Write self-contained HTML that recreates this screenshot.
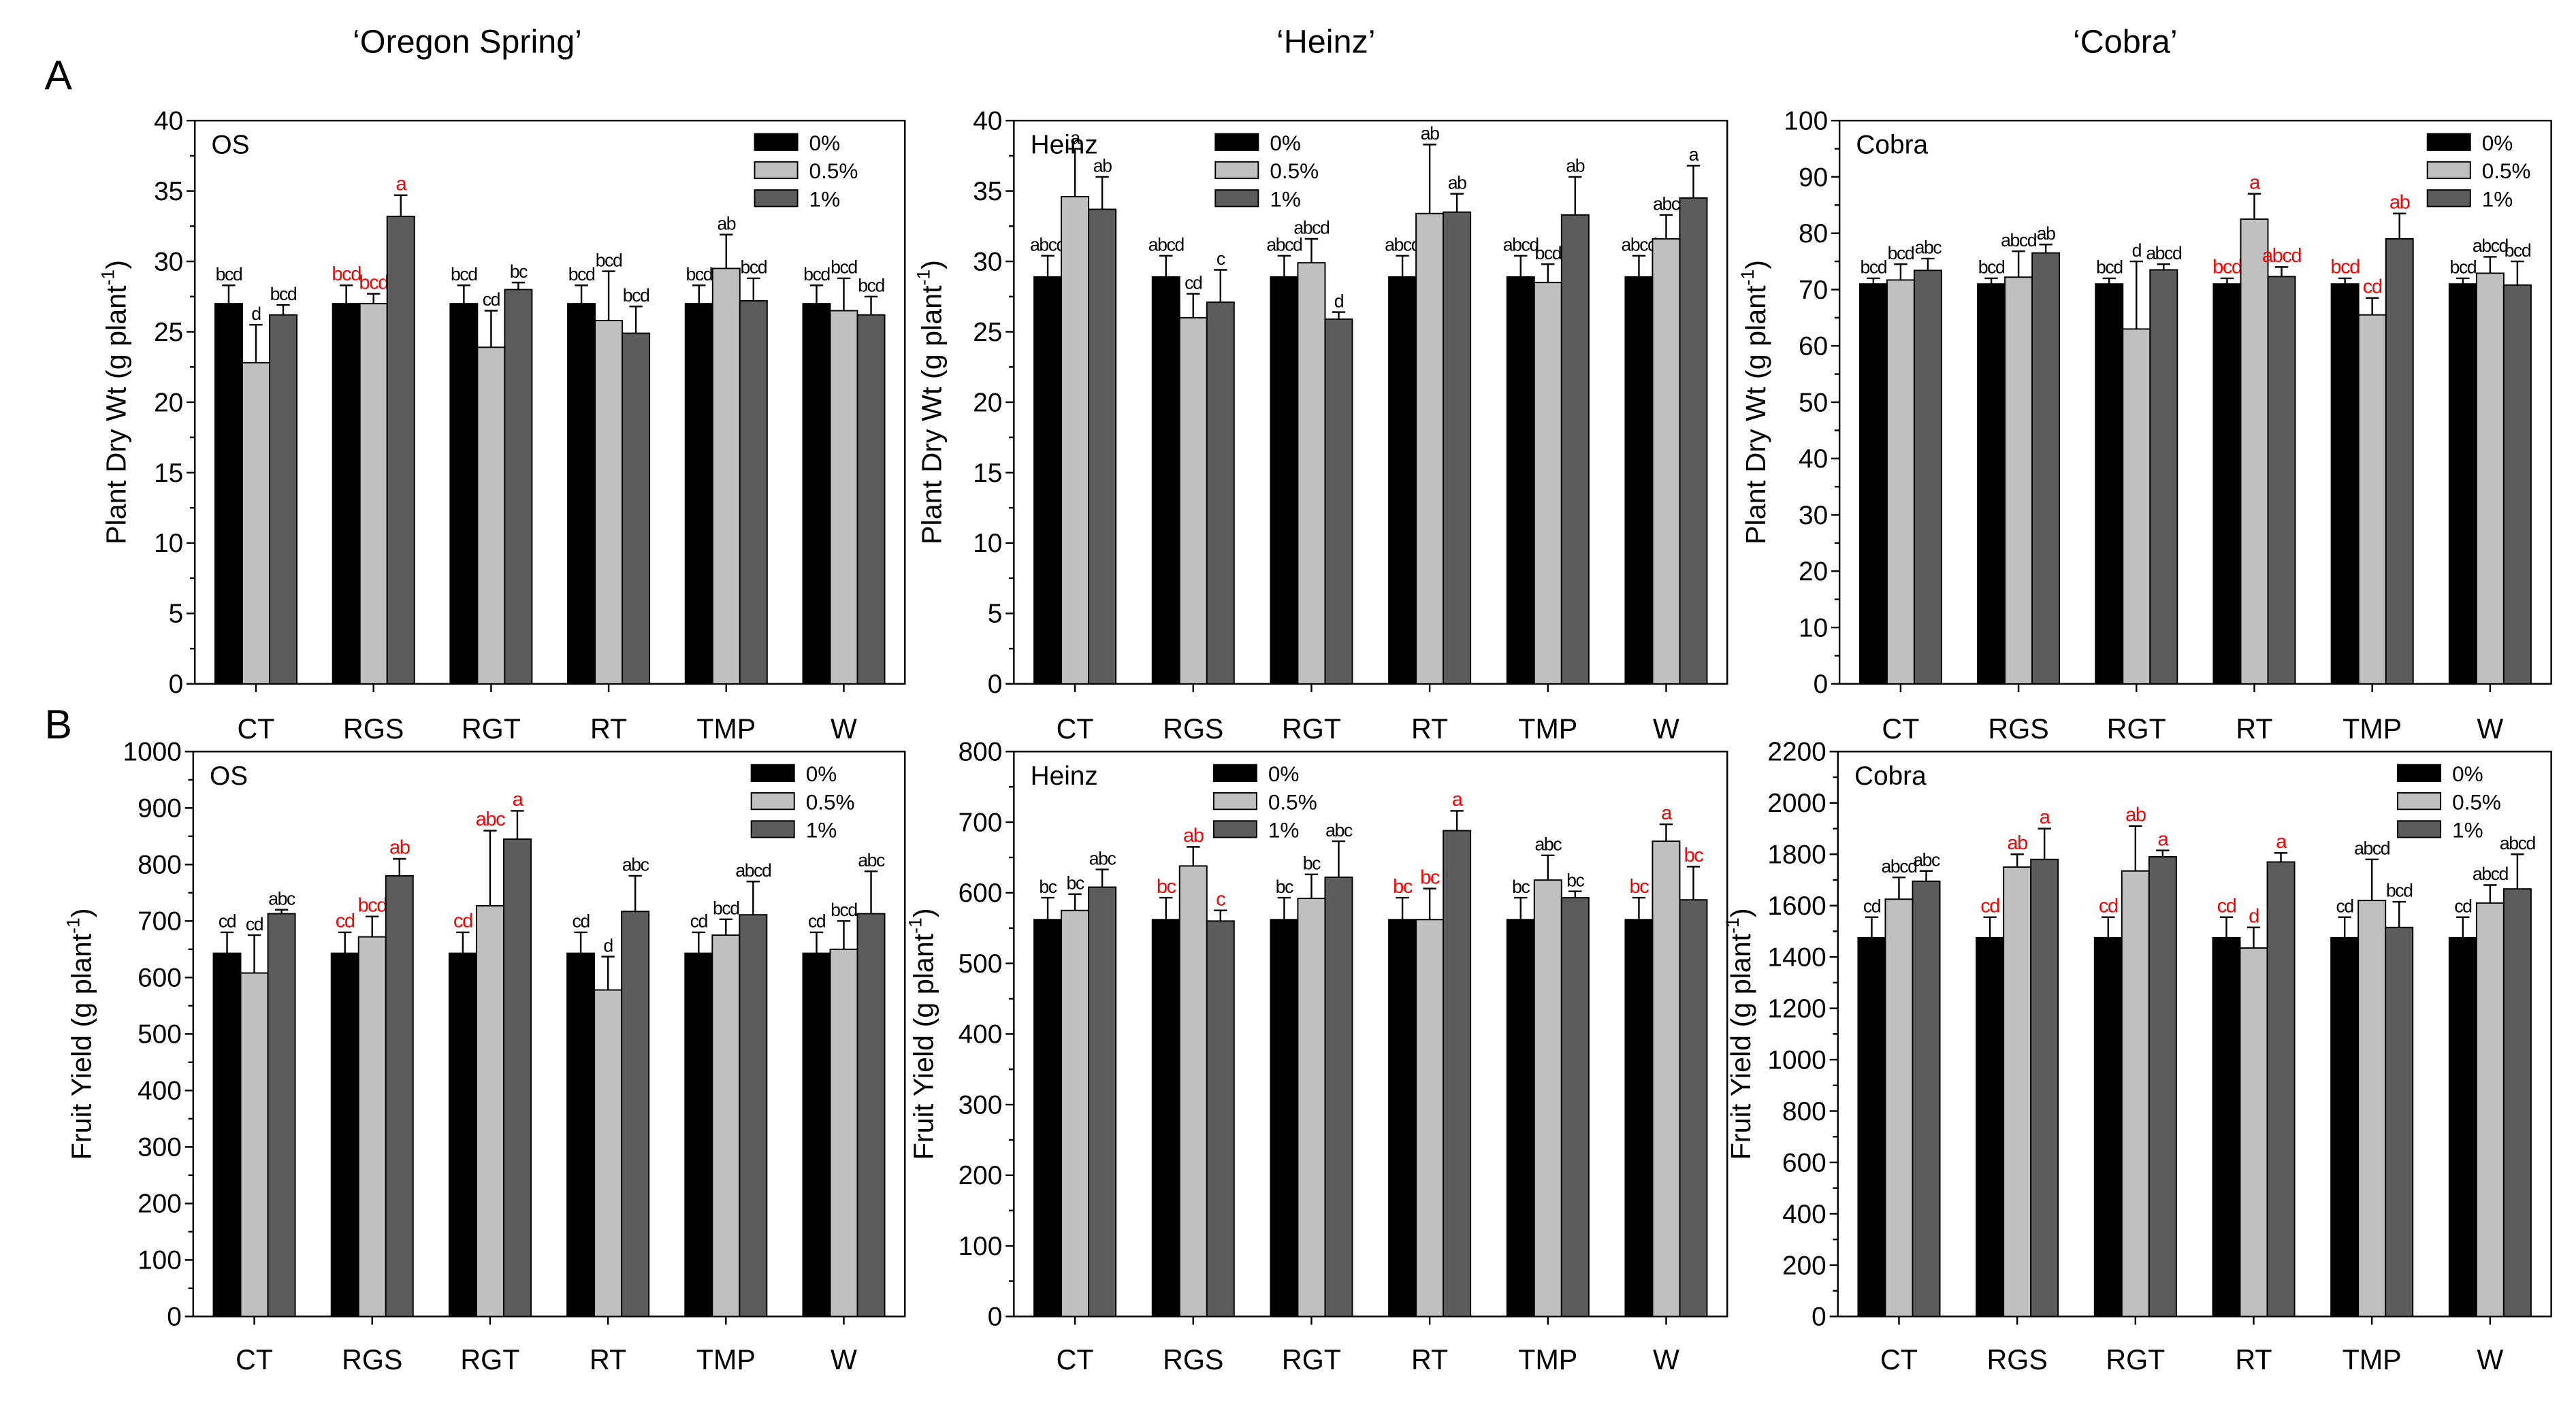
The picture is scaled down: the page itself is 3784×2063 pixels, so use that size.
<!DOCTYPE html>
<html><head><meta charset="utf-8"><style>
html,body{margin:0;padding:0;background:#fff;}
svg{display:block;font-family:"Liberation Sans",sans-serif;}
</style></head><body>
<svg id="fig" width="3784" height="2063" viewBox="0 0 1560 850" preserveAspectRatio="none" xmlns="http://www.w3.org/2000/svg">
<text x="283" y="32" font-size="20" text-anchor="middle">‘Oregon Spring’</text>
<text x="803" y="32" font-size="20" text-anchor="middle">‘Heinz’</text>
<text x="1287" y="32" font-size="20" text-anchor="middle">‘Cobra’</text>
<text x="27" y="54" font-size="25">A</text>
<text x="27" y="447" font-size="25">B</text>
</svg>
<script>
const categories = ["CT","RGS","RGT","RT","TMP","W"];
const seriesNames = ["0%","0.5%","1%"];

const osA_0 = [27,27,27,27,27,27];
const osA_05 = [22.8,27,23.9,25.8,29.5,26.5];
const osA_1 = [26.2,33.2,28,24.9,27.2,26.2];
const osA_e0 = [28.3,28.3,28.3,28.3,28.3,28.3];
const osA_e05 = [25.5,27.7,26.5,29.3,31.9,28.8];
const osA_e1 = [26.9,34.7,28.5,26.8,28.8,27.5];
const osA_lab = [["bcd","d","bcd"],["bcd","bcd","a"],["bcd","cd","bc"],["bcd","bcd","bcd"],["bcd","ab","bcd"],["bcd","bcd","bcd"]];
const osA_red = [[0,0,0],[1,1,1],[0,0,0],[0,0,0],[0,0,0],[0,0,0]];
const osA_ticks = [0,5,10,15,20,25,30,35,40];

const hzA_0 = [28.9,28.9,28.9,28.9,28.9,28.9];
const hzA_05 = [34.6,26,29.9,33.4,28.5,31.6];
const hzA_1 = [33.7,27.1,25.9,33.5,33.3,34.5];
const hzA_e0 = [30.4,30.4,30.4,30.4,30.4,30.4];
const hzA_e05 = [38,27.7,31.6,38.3,29.8,33.3];
const hzA_e1 = [36,29.4,26.4,34.8,36,36.8];
const hzA_lab = [["abcd","a","ab"],["abcd","cd","c"],["abcd","abcd","d"],["abcd","ab","ab"],["abcd","bcd","ab"],["abcd","abc","a"]];
const hzA_red = [[0,0,0],[0,0,0],[0,0,0],[0,0,0],[0,0,0],[0,0,0]];
const hzA_ticks = [0,5,10,15,20,25,30,35,40];

const cbA_0 = [71,71,71,71,71,71];
const cbA_05 = [71.7,72.2,63,82.5,65.5,72.9];
const cbA_1 = [73.4,76.5,73.5,72.3,79,70.8];
const cbA_e0 = [72,72,72,72,72,72];
const cbA_e05 = [74.5,76.8,75,87,68.5,75.8];
const cbA_e1 = [75.5,78,74.5,74,83.5,75];
const cbA_lab = [["bcd","bcd","abc"],["bcd","abcd","ab"],["bcd","d","abcd"],["bcd","a","abcd"],["bcd","cd","ab"],["bcd","abcd","bcd"]];
const cbA_red = [[0,0,0],[0,0,0],[0,0,0],[1,1,1],[1,1,1],[0,0,0]];
const cbA_ticks = [0,10,20,30,40,50,60,70,80,90,100];

const osB_0 = [643,643,643,643,643,643];
const osB_05 = [608,672,727,578,675,650];
const osB_1 = [713,780,845,717,711,713];
const osB_e0 = [680,680,680,680,680,680];
const osB_e05 = [675,708,860,637,703,700];
const osB_e1 = [720,810,895,780,770,788];
const osB_lab = [["cd","cd","abc"],["cd","bcd","ab"],["cd","abc","a"],["cd","d","abc"],["cd","bcd","abcd"],["cd","bcd","abc"]];
const osB_red = [[0,0,0],[1,1,1],[1,1,1],[0,0,0],[0,0,0],[0,0,0]];
const osB_ticks = [0,100,200,300,400,500,600,700,800,900,1000];

const hzB_0 = [562,562,562,562,562,562];
const hzB_05 = [575,638,592,562,618,673];
const hzB_1 = [608,560,622,688,593,590];
const hzB_e0 = [593,593,593,593,593,593];
const hzB_e05 = [598,665,626,606,653,697];
const hzB_e1 = [633,575,673,716,602,637];
const hzB_lab = [["bc","bc","abc"],["bc","ab","c"],["bc","bc","abc"],["bc","bc","a"],["bc","abc","bc"],["bc","a","bc"]];
const hzB_red = [[0,0,0],[1,1,1],[0,0,0],[1,1,1],[0,0,0],[1,1,1]];
const hzB_ticks = [0,100,200,300,400,500,600,700,800];

const cbB_0 = [1475,1475,1475,1475,1475,1475];
const cbB_05 = [1625,1750,1735,1435,1620,1610];
const cbB_1 = [1695,1780,1790,1770,1515,1665];
const cbB_e0 = [1555,1555,1555,1555,1555,1555];
const cbB_e05 = [1710,1800,1910,1515,1780,1680];
const cbB_e1 = [1735,1900,1815,1805,1615,1800];
const cbB_lab = [["cd","abcd","abc"],["cd","ab","a"],["cd","ab","a"],["cd","d","a"],["cd","abcd","bcd"],["cd","abcd","abcd"]];
const cbB_red = [[0,0,0],[1,1,1],[1,1,1],[1,1,1],[0,0,0],[0,0,0]];
const cbB_ticks = [0,200,400,600,800,1000,1200,1400,1600,1800,2000,2200];

const NS = "http://www.w3.org/2000/svg";
const svg = document.getElementById("fig");
function mk(tag, attrs, parent){
  const e = document.createElementNS(NS, tag);
  for (const k in attrs) e.setAttribute(k, attrs[k]);
  (parent||svg).appendChild(e);
  return e;
}
const fills = ["#000000","#c0c0c0","#5c5c5c"];

function drawPanel(p){
  const g = mk("g", {});
  
  
  const L=p.left, R=p.right, T=p.top, B=p.bottom;
  const ymax = p.ticks[p.ticks.length-1];
  const y = v => B - (v/ymax)*(B-T);
  const step = (R-L-74)/5;
  const xc = i => L + 37 + i*step;
  const bw = 16.5;
  // frame
  const fr = mk("rect", {x:L,y:T,width:R-L,height:B-T,fill:"none",stroke:"#000","stroke-width":1}, g);
  
  
  // y ticks
  for (let k=0;k<p.ticks.length;k++){
    const v = p.ticks[k];
    mk("line",{x1:L-5,x2:L,y1:y(v),y2:y(v),stroke:"#000","stroke-width":1},g);
    if (k<p.ticks.length-1){
      const vm=(p.ticks[k]+p.ticks[k+1])/2;
      mk("line",{x1:L-3,x2:L,y1:y(vm),y2:y(vm),stroke:"#000","stroke-width":1},g);
    }
    const t = mk("text",{x:L-7,y:y(v)+5.5,"font-size":16,"text-anchor":"end"},g);
    t.textContent = v;
    
    
  }
  // y title
  const yt = mk("text",{x:0,y:0,"font-size":17,"text-anchor":"middle",transform:`translate(${p.ytx},${(T+B)/2}) rotate(-90)`},g);
  yt.innerHTML = p.ytitle + ' (g plant<tspan dy="-7" font-size="11">-1</tspan><tspan dy="7">)</tspan>';
  
  
  // panel tag
  const tg = mk("text",{x:L+10,y:T+20,"font-size":16},g);
  tg.textContent = p.tag;
  
  
  // bars
  const vals=[p.v0,p.v05,p.v1], errs=[p.e0,p.e05,p.e1];
  for (let i=0;i<categories.length;i++){
    mk("line",{x1:xc(i),x2:xc(i),y1:B,y2:B+5,stroke:"#000","stroke-width":1},g);
    const ct = mk("text",{x:xc(i),y:p.catY,"font-size":17,"text-anchor":"middle"},g);
    ct.textContent = categories[i];
    
    
    for (let s=0;s<3;s++){
      const bx = xc(i) - 1.5*bw + s*bw;
      const v = vals[s][i], e = errs[s][i];
      const r = mk("rect",{x:bx,y:y(v),width:bw,height:B-y(v),fill:fills[s],stroke:"#000","stroke-width":0.8},g);
      
      
      const cx = bx + bw/2;
      mk("line",{x1:cx,x2:cx,y1:y(v),y2:y(e),stroke:"#000","stroke-width":1},g);
      mk("line",{x1:cx-4,x2:cx+4,y1:y(e),y2:y(e),stroke:"#000","stroke-width":1},g);
      const red = p.red[i][s];
      const lt = mk("text",{x:cx,y:y(e)-3,"font-size":red?12:11,"text-anchor":"middle",fill:red?"#ff0000":"#000","letter-spacing":"-0.6"},g);
      lt.textContent = p.lab[i][s];
      
      
    }
  }
  // legend
  for (let s=0;s<3;s++){
    const ly = T + 8 + s*17;
    const lr = mk("rect",{x:p.legX,y:ly,width:26,height:10,fill:fills[s],stroke:"#000","stroke-width":0.8},g);
    
    
    const lt = mk("text",{x:p.legX+33,y:ly+10,"font-size":13},g);
    lt.textContent = seriesNames[s];
    
    
  }
}

drawPanel({name:"chart-os-dry-weight",left:118,right:548,top:73,bottom:414,ticks:osA_ticks,v0:osA_0,v05:osA_05,v1:osA_1,e0:osA_e0,e05:osA_e05,e1:osA_e1,lab:osA_lab,red:osA_red,tag:"OS",ytitle:"Plant Dry Wt",ytx:76,catY:447,legX:457});
drawPanel({name:"chart-heinz-dry-weight",left:614,right:1046,top:73,bottom:414,ticks:hzA_ticks,v0:hzA_0,v05:hzA_05,v1:hzA_1,e0:hzA_e0,e05:hzA_e05,e1:hzA_e1,lab:hzA_lab,red:hzA_red,tag:"Heinz",ytx:570,ytitle:"Plant Dry Wt",catY:447,legX:736});
drawPanel({name:"chart-cobra-dry-weight",left:1114,right:1545,top:73,bottom:414,ticks:cbA_ticks,v0:cbA_0,v05:cbA_05,v1:cbA_1,e0:cbA_e0,e05:cbA_e05,e1:cbA_e1,lab:cbA_lab,red:cbA_red,tag:"Cobra",ytx:1069,ytitle:"Plant Dry Wt",catY:447,legX:1470});
drawPanel({name:"chart-os-fruit-yield",left:117,right:548,top:455,bottom:797,ticks:osB_ticks,v0:osB_0,v05:osB_05,v1:osB_1,e0:osB_e0,e05:osB_e05,e1:osB_e1,lab:osB_lab,red:osB_red,tag:"OS",ytx:55,ytitle:"Fruit Yield",catY:829,legX:455});
drawPanel({name:"chart-heinz-fruit-yield",left:614,right:1046,top:455,bottom:797,ticks:hzB_ticks,v0:hzB_0,v05:hzB_05,v1:hzB_1,e0:hzB_e0,e05:hzB_e05,e1:hzB_e1,lab:hzB_lab,red:hzB_red,tag:"Heinz",ytx:565,ytitle:"Fruit Yield",catY:829,legX:735});
drawPanel({name:"chart-cobra-fruit-yield",left:1113,right:1545,top:455,bottom:797,ticks:cbB_ticks,v0:cbB_0,v05:cbB_05,v1:cbB_1,e0:cbB_e0,e05:cbB_e05,e1:cbB_e1,lab:cbB_lab,red:cbB_red,tag:"Cobra",ytx:1060,ytitle:"Fruit Yield",catY:829,legX:1452});
</script>
</body></html>
